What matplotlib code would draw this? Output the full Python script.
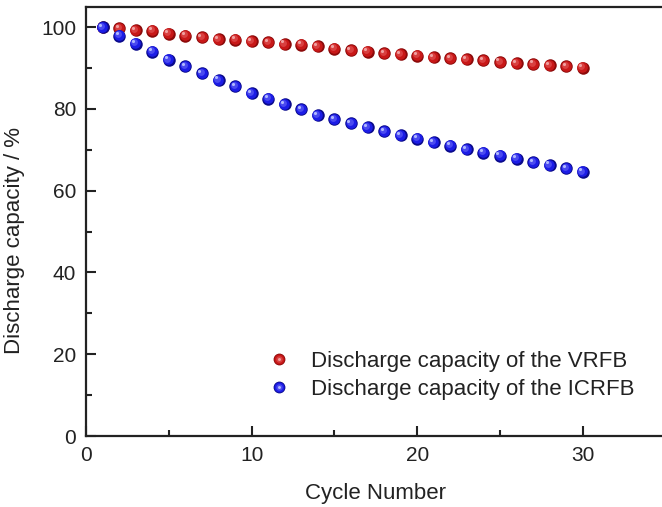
import numpy as np
import matplotlib
matplotlib.use("Agg")
from matplotlib import pyplot as plt
from matplotlib.transforms import offset_copy
from matplotlib.legend_handler import HandlerTuple
from matplotlib.lines import Line2D

plt.rcParams['font.family'] = ['Liberation Sans', 'DejaVu Sans']

cycles = list(range(1, 31))
vrfb = [100.0, 99.7, 99.2, 99.1, 98.4, 97.9, 97.5, 97.1, 96.9, 96.5,
        96.3, 95.9, 95.7, 95.3, 94.7, 94.4, 94.0, 93.6, 93.4, 93.0,
        92.6, 92.4, 92.2, 91.9, 91.5, 91.2, 91.0, 90.7, 90.5, 90.1]
icrfb = [100.0, 97.9, 96.0, 94.0, 92.0, 90.4, 88.7, 87.1, 85.5, 83.9,
         82.5, 81.2, 79.9, 78.5, 77.5, 76.5, 75.5, 74.5, 73.6, 72.7,
         71.8, 71.0, 70.1, 69.3, 68.6, 67.8, 67.0, 66.3, 65.5, 64.6]
labels = ["Discharge capacity of the VRFB", "Discharge capacity of the ICRFB"]

# sphere shading layers: (size factor, colour, offset in points)
red_layers = [(1.0, '#8c0a0a', 0.0), (0.85, '#c81818', -0.3), (0.55, '#d94040', -1.0), (0.25, '#f0a0a0', -1.8)]
blue_layers = [(1.0, '#0a0a8c', 0.0), (0.85, '#1c1ce6', -0.3), (0.55, '#4a4af0', -1.0), (0.25, '#b0b8ff', -1.8)]

fig = plt.figure(figsize=(6.62, 5.07), dpi=100)
ax = fig.add_axes([0.130, 0.140, 0.8754, 0.8467])

def sphere(x, y, layers, ms=9.0, z=3):
    for f, c, off in layers:
        tr = offset_copy(ax.transData, fig=fig, x=off, y=-off, units='points')
        ax.plot(x, y, 'o', ms=ms * f, color=c, mec='none', transform=tr, zorder=z)

sphere(cycles, vrfb, red_layers, z=3)
sphere(cycles, icrfb, blue_layers, z=4)

ax.set_xlim(0, 35)
ax.set_ylim(0, 105)
ax.set_xticks([0, 10, 20, 30])
ax.set_xticks([5, 15, 25, 35], minor=True)
ax.set_yticks([0, 20, 40, 60, 80, 100])
ax.set_yticks([10, 30, 50, 70, 90], minor=True)
ax.tick_params(which='both', direction='in', width=1.5, labelsize=15, colors='#222222', pad=7)
ax.tick_params(which='major', length=7)
ax.tick_params(which='minor', length=4)
for s in ax.spines.values():
    s.set_linewidth(1.6)
    s.set_color('#222222')

ax.set_xlabel("Cycle Number", fontsize=16, color='#222222', labelpad=13)
ax.set_ylabel("Discharge capacity / %", fontsize=16, color='#222222')
ax.yaxis.set_label_coords(-0.106, 0.4566)

def handle(layers):
    return tuple(Line2D([], [], ls='none', marker='o', ms=8.5 * f, color=c, mec='none') for f, c, _ in layers)

ax.legend([handle(red_layers), handle(blue_layers)], labels,
          handler_map={tuple: HandlerTuple(ndivide=1)},
          loc='upper left', bbox_to_anchor=(0.279, 0.244), frameon=False,
          fontsize=16, handlelength=1.0, handletextpad=0.95, labelspacing=0.3,
          labelcolor='#222222')

fig.savefig("out.png", dpi=100)
